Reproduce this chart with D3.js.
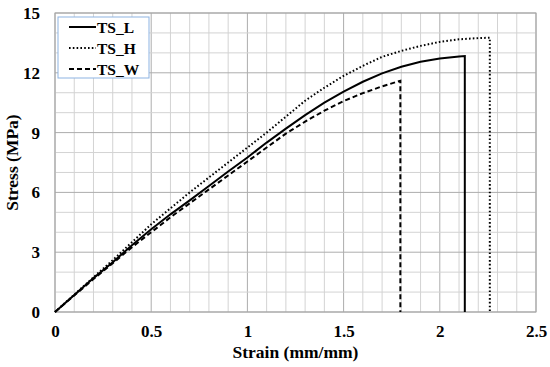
<!DOCTYPE html>
<html>
<head>
<meta charset="utf-8">
<script src="https://cdn.jsdelivr.net/npm/d3@7"></script>
<style>
  body { margin: 0; background: #fff; }
</style>
</head>
<body>
<svg class="chart"></svg>
<script>
// values
var strainL = [0, 0.1, 0.2, 0.3, 0.4, 0.5, 0.6, 0.7, 0.8, 0.9, 1.0, 1.1, 1.2, 1.3, 1.4, 1.5, 1.6, 1.7, 1.8, 1.9, 2.0, 2.1, 2.13, 2.13];
var stressL = [0, 0.85, 1.7, 2.5, 3.35, 4.15, 4.9, 5.6, 6.32, 7.05, 7.75, 8.5, 9.2, 9.88, 10.5, 11.05, 11.55, 11.97, 12.3, 12.55, 12.72, 12.82, 12.84, 0];

var strainH = [0, 0.1, 0.2, 0.3, 0.4, 0.5, 0.6, 0.7, 0.8, 0.9, 1.0, 1.1, 1.2, 1.3, 1.4, 1.5, 1.6, 1.7, 1.8, 1.9, 2.0, 2.1, 2.2, 2.26, 2.26];
var stressH = [0, 0.87, 1.74, 2.6, 3.5, 4.4, 5.2, 6.0, 6.75, 7.5, 8.25, 9.0, 9.8, 10.6, 11.25, 11.85, 12.35, 12.8, 13.1, 13.35, 13.55, 13.68, 13.74, 13.76, 0];

var strainW = [0, 0.1, 0.2, 0.3, 0.4, 0.5, 0.6, 0.7, 0.8, 0.9, 1.0, 1.1, 1.2, 1.3, 1.4, 1.5, 1.6, 1.7, 1.795, 1.795];
var stressW = [0, 0.83, 1.65, 2.45, 3.25, 4.0, 4.75, 5.45, 6.15, 6.85, 7.55, 8.25, 8.95, 9.55, 10.1, 10.58, 10.98, 11.32, 11.6, 0];

var seriesNames = ["TS_L", "TS_H", "TS_W"];
var xTicks = [0, 0.5, 1, 1.5, 2, 2.5];
var yTicks = [0, 3, 6, 9, 12, 15];

var serif = "'Liberation Serif', 'Times New Roman', Times, serif";

var frameWidth = 550;
var frameHeight = 367;
var lmargin = 55;
var rmargin = 14;
var tmargin = 13;
var bmargin = 55;
var width = frameWidth - lmargin - rmargin;
var height = frameHeight - tmargin - bmargin;

var xScale = d3.scaleLinear().domain([0, 2.5]).range([0, width]);
var yScale = d3.scaleLinear().domain([0, 15]).range([height, 0]);

var svg = d3.select(".chart")
  .attr("width", frameWidth)
  .attr("height", frameHeight);

var g = svg.append("g").attr("transform", "translate(" + lmargin + "," + tmargin + ")");

// grid: minor every 0.1 / 1 MPa, major every 0.5 / 3 MPa
var xGrid = d3.range(0, 26).map(function(i) { return i / 10; });
var yGrid = d3.range(0, 16);

g.selectAll(".vgrid").data(xGrid).enter().append("line")
  .attr("x1", function(d) { return xScale(d); })
  .attr("x2", function(d) { return xScale(d); })
  .attr("y1", 0).attr("y2", height)
  .attr("stroke", function(d, i) { return i % 5 == 0 ? "#adadad" : "#d3d3d3"; })
  .attr("stroke-width", 1);

g.selectAll(".hgrid").data(yGrid).enter().append("line")
  .attr("x1", 0).attr("x2", width)
  .attr("y1", function(d) { return yScale(d); })
  .attr("y2", function(d) { return yScale(d); })
  .attr("stroke", function(d) { return d % 3 == 0 ? "#adadad" : "#d3d3d3"; })
  .attr("stroke-width", 1);

g.append("rect")
  .attr("width", width).attr("height", height)
  .attr("fill", "none").attr("stroke", "#a6a6a6").attr("stroke-width", 1);

// curves
var line = d3.line()
  .x(function(d) { return xScale(d[0]); })
  .y(function(d) { return yScale(d[1]); });

var dashes = ["none", "1.6,2.2", "5,3"];
var curves = [d3.zip(strainL, stressL), d3.zip(strainH, stressH), d3.zip(strainW, stressW)];

g.selectAll(".curve").data(curves).enter().append("path")
  .attr("d", line)
  .attr("fill", "none")
  .attr("stroke", "#000")
  .attr("stroke-width", 2)
  .attr("stroke-dasharray", function(d, i) { return dashes[i]; });

// axes (labels only)
var xAxis = g.append("g")
  .attr("transform", "translate(0," + height + ")")
  .call(d3.axisBottom(xScale).tickValues(xTicks).tickSize(0).tickPadding(13).tickFormat(d3.format("")));
xAxis.select(".domain").remove();
xAxis.attr("font-family", serif).attr("font-size", 17).attr("font-weight", "bold");
xAxis.selectAll("text").attr("fill", "#000");

var yAxis = g.append("g")
  .call(d3.axisLeft(yScale).tickValues(yTicks).tickSize(0).tickPadding(15));
yAxis.select(".domain").remove();
yAxis.attr("font-family", serif).attr("font-size", 17).attr("font-weight", "bold");
yAxis.selectAll("text").attr("fill", "#000");

// axis titles
svg.append("text")
  .attr("x", lmargin + width / 2)
  .attr("y", 358)
  .attr("text-anchor", "middle")
  .attr("font-family", serif).attr("font-weight", "bold")
  .attr("font-size", 17.5)
  .text("Strain (mm/mm)");

svg.append("text")
  .attr("transform", "rotate(-90)")
  .attr("x", -(tmargin + height / 2))
  .attr("y", 18)
  .attr("text-anchor", "middle")
  .attr("font-family", serif).attr("font-weight", "bold")
  .attr("font-size", 17.5)
  .text("Stress (MPa)");

// legend
var legend = svg.append("g").attr("transform", "translate(58,17)");
legend.append("rect")
  .attr("width", 91).attr("height", 61)
  .attr("fill", "#fff").attr("stroke", "#8db3e2").attr("stroke-width", 1);

var rows = legend.selectAll(".row").data(seriesNames).enter().append("g")
  .attr("transform", function(d, i) { return "translate(0," + (10 + i * 21) + ")"; });
rows.append("line")
  .attr("x1", 11).attr("x2", 38).attr("y1", 0).attr("y2", 0)
  .attr("stroke", "#000").attr("stroke-width", 2)
  .attr("stroke-dasharray", function(d, i) { return dashes[i]; });
rows.append("text")
  .attr("x", 39).attr("y", 5.5)
  .attr("font-family", serif).attr("font-weight", "bold")
  .attr("font-size", 15.5)
  .text(function(d) { return d; });
</script>
</body>
</html>
